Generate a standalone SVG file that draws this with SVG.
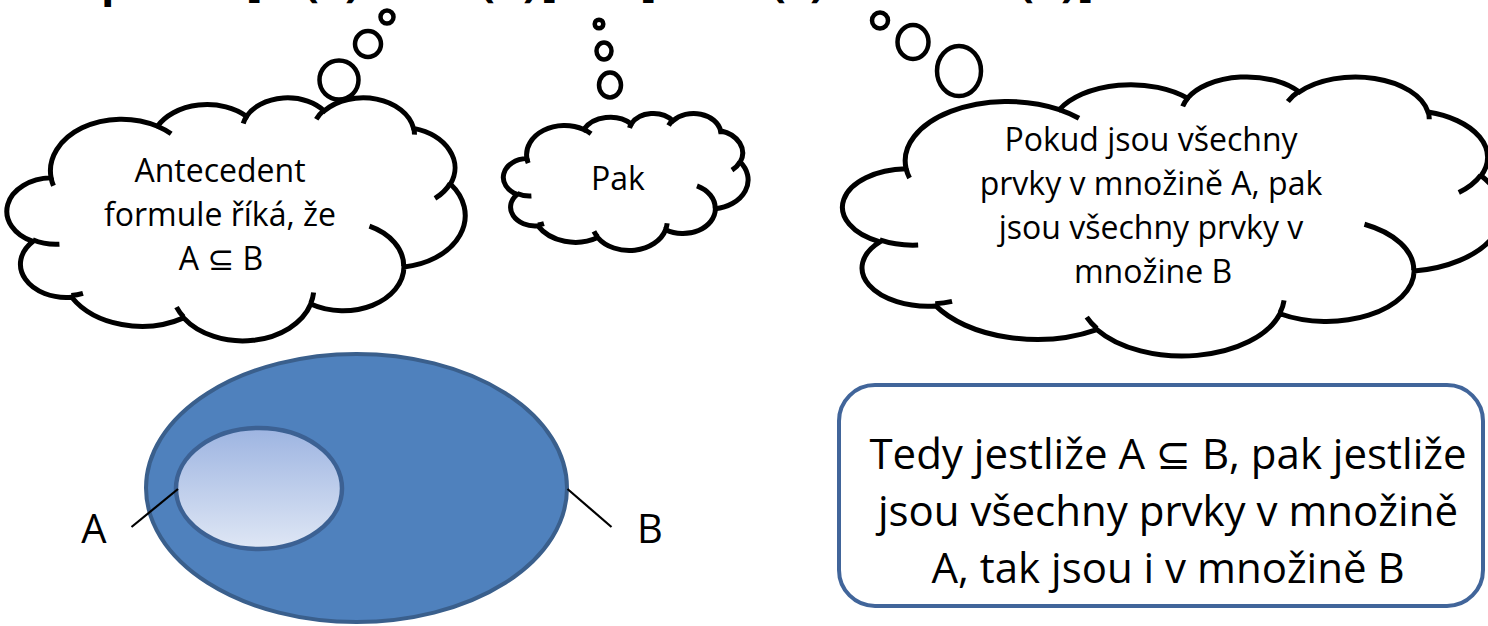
<svg xmlns="http://www.w3.org/2000/svg" xmlns:xlink="http://www.w3.org/1999/xlink" width="1488" height="626" viewBox="0 0 1488 626">
<style>
.cl{fill:#fff;stroke:#000;stroke-width:5;vector-effect:non-scaling-stroke;stroke-linejoin:miter}
.hk{fill:none;stroke:#000;stroke-width:5;vector-effect:non-scaling-stroke}
.bub{fill:#fff;stroke:#000;stroke-width:4.5}
.t{font-family:"Open Sans","Noto Sans","DejaVu Sans",sans-serif;fill:#000;text-anchor:middle}
.ct{font-size:32px}
.bt{font-size:42px}
.lbl{font-size:40px}
.top{font-family:"Open Sans","DejaVu Sans",sans-serif;font-weight:bold;font-size:44px;fill:#000}
.lead{stroke:#000;stroke-width:2.2;fill:none}
</style>
<defs>
<path id="cloudOutline" class="cl" d="M3900,14370 A6753,9190 0 0 1 14005.5,5202.3 A5333,7267 0 0 1 22457.2,3432.8 A4365,5945 0 0 1 29834.5,2481.9 A4857,6595 0 0 1 38319.6,5577 A5333,7273 0 0 1 41819.9,15460.8 A6775,9220 0 0 1 37405.3,30203.3 A5785,7867 0 0 1 28556.9,36813.8 A6752,9215 0 0 1 16481.9,39265.6 A7720,10543 0 0 1 5859.6,35596.8 A4360,5918 0 0 1 2168.3,25674.6 A4345,5945 0 0 1 3900,14370 Z"/>
<path id="cloudHooks" class="hk" d="M4693,26177 A4345,5945 0 0 1 2160.1,25380 M6928,34899 A4360,5918 0 0 1 5819.8,35280.6 M16478,39090 A6752,9215 0 0 1 15809.7,37348.8 M28827,34751 A6752,9215 0 0 1 28560.4,36660.4 M34129,22954 A5785,7867 0 0 1 37380.5,30089.6 M41798,15354 A5333,7273 0 0 1 40350,18029.7 M38324,5426 A4857,6595 0 0 1 38400.5,6689.7 M29078,3952 A4857,6595 0 0 1 29819.3,2341.3 M22141,4720 A4365,5945 0 0 1 22500.2,3330.4 M14000,5192 A6753,9190 0 0 1 15300.4,6541.4 M4127,15789 A6753,9190 0 0 1 3900.2,14370.9"/>
<linearGradient id="gA" x1="0" y1="0" x2="0" y2="1">
<stop offset="0" stop-color="#9db4e1"/>
<stop offset="1" stop-color="#dfe7f5"/>
</linearGradient>
</defs>

<g id="formula">
<text class="top" y="-4"><tspan x="101">p</tspan><tspan x="246">[</tspan><tspan x="304">(</tspan><tspan x="345">)</tspan><tspan x="480">(</tspan><tspan x="523">)</tspan><tspan x="543">]</tspan><tspan x="640">[</tspan><tspan x="771">(</tspan><tspan x="810">)</tspan><tspan x="1019">(</tspan><tspan x="1061">)</tspan><tspan x="1079">]</tspan></text>
</g>

<g id="cloud-antecedent">
<ellipse class="bub" cx="387" cy="17" rx="6.5" ry="6.5"/>
<ellipse class="bub" cx="368" cy="44" rx="13" ry="13"/>
<ellipse class="bub" cx="339" cy="80" rx="19.5" ry="19.5"/>
<g transform="translate(10,97) scale(0.0105324,0.005625)">
<use xlink:href="#cloudOutline"/>
<use xlink:href="#cloudHooks"/>
</g>
<text class="t ct" x="220" y="182">Antecedent</text>
<text class="t ct" x="220" y="226">formule říká, že</text>
<text class="t ct" x="221" y="270">A ⊆ B</text>
</g>

<g id="cloud-pak">
<ellipse class="bub" cx="599" cy="24" rx="4.3" ry="4.3"/>
<ellipse class="bub" cx="604" cy="51" rx="7.5" ry="8.5"/>
<ellipse class="bub" cx="610" cy="85" rx="11" ry="12.5"/>
<g transform="translate(505,113) scale(0.005625,0.0031713)">
<use xlink:href="#cloudOutline"/>
<use xlink:href="#cloudHooks"/>
</g>
<text class="t ct" x="618" y="190">Pak</text>
</g>

<g id="cloud-pokud">
<ellipse class="bub" cx="880" cy="20.5" rx="8" ry="8"/>
<ellipse class="bub" cx="913" cy="42" rx="15.5" ry="17"/>
<ellipse class="bub" cx="959" cy="71" rx="22" ry="25"/>
<g transform="translate(847,76) scale(0.015162,0.0064583)">
<use xlink:href="#cloudOutline"/>
<use xlink:href="#cloudHooks"/>
</g>
<text class="t ct" x="1151" y="151">Pokud jsou všechny</text>
<text class="t ct" x="1151" y="195">prvky v množině A, pak</text>
<text class="t ct" x="1151" y="239">jsou všechny prvky v</text>
<text class="t ct" x="1153" y="283">množine B</text>
</g>

<g id="set-B">
<ellipse cx="356.5" cy="488" rx="210.5" ry="134" fill="#4f81bd" stroke="#3a5f8c" stroke-width="4"/>
</g>
<g id="set-A">
<ellipse cx="259" cy="488.5" rx="83" ry="60.5" fill="url(#gA)" stroke="#3c6193" stroke-width="4.5"/>
</g>

<g id="connectors">
<line class="lead" x1="178" y1="489" x2="131.5" y2="527"/>
<line class="lead" x1="567.5" y1="489" x2="611.5" y2="527"/>
</g>

<g id="label-A"><text class="t lbl" x="94" y="543">A</text></g>
<g id="label-B"><text class="t lbl" x="650" y="543">B</text></g>

<g id="conclusion">
<rect x="839" y="385" width="644" height="221" rx="36" ry="36" fill="#fff" stroke="#41659a" stroke-width="4"/>
<text class="t bt" x="1168" y="469">Tedy jestliže A ⊆ B, pak jestliže</text>
<text class="t bt" x="1168" y="526">jsou všechny prvky v množině</text>
<text class="t bt" x="1168" y="583">A, tak jsou i v množině B</text>
</g>
</svg>
